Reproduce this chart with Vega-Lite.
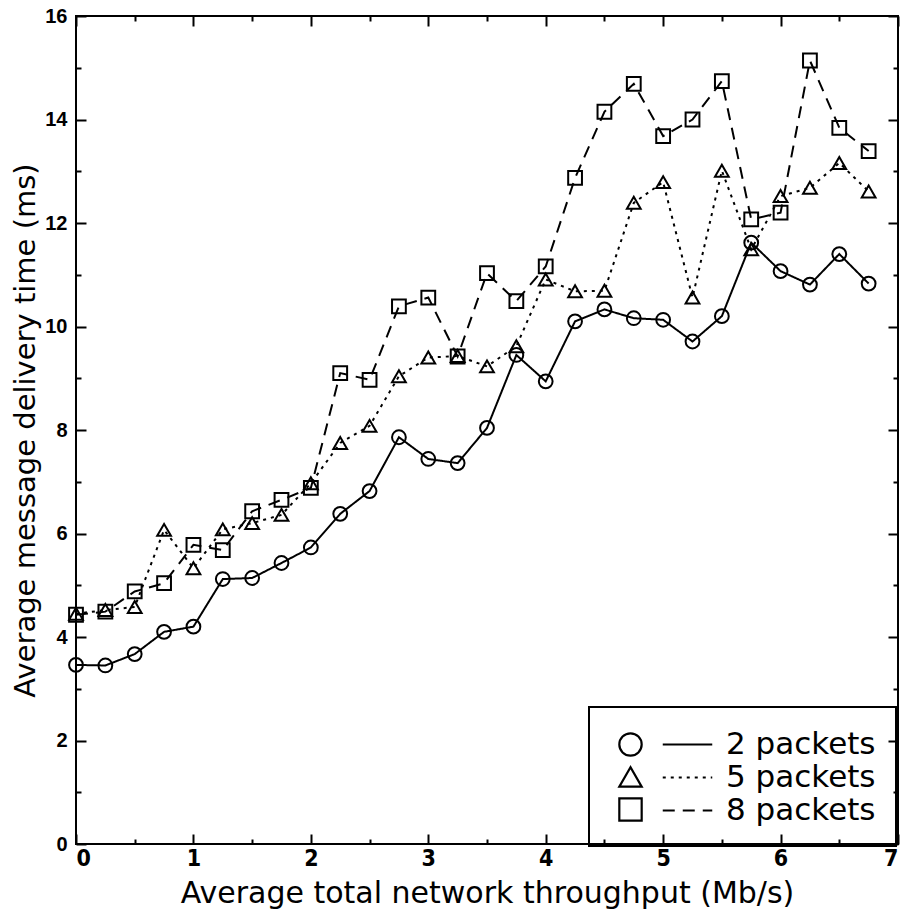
{
  "$schema": "https://vega.github.io/schema/vega-lite/v6.json",
  "width": 822,
  "height": 828,
  "autosize": {"type": "none"},
  "padding": {"left": 76, "top": 16, "right": 9, "bottom": 67},
  "background": "white",
  "config": {"view": {"stroke": "black", "strokeWidth": 2}, "font": "DejaVu Sans", "legend": {"strokeWidth": 2}},
  "data": {"values": [
    {"x": 0, "y": 3.46, "series": "2 packets", "packets": 2},
    {"x": 0.25, "y": 3.45, "series": "2 packets", "packets": 2},
    {"x": 0.5, "y": 3.67, "series": "2 packets", "packets": 2},
    {"x": 0.75, "y": 4.10, "series": "2 packets", "packets": 2},
    {"x": 1.0, "y": 4.20, "series": "2 packets", "packets": 2},
    {"x": 1.25, "y": 5.12, "series": "2 packets", "packets": 2},
    {"x": 1.5, "y": 5.14, "series": "2 packets", "packets": 2},
    {"x": 1.75, "y": 5.43, "series": "2 packets", "packets": 2},
    {"x": 2.0, "y": 5.73, "series": "2 packets", "packets": 2},
    {"x": 2.25, "y": 6.38, "series": "2 packets", "packets": 2},
    {"x": 2.5, "y": 6.82, "series": "2 packets", "packets": 2},
    {"x": 2.75, "y": 7.86, "series": "2 packets", "packets": 2},
    {"x": 3.0, "y": 7.44, "series": "2 packets", "packets": 2},
    {"x": 3.25, "y": 7.36, "series": "2 packets", "packets": 2},
    {"x": 3.5, "y": 8.04, "series": "2 packets", "packets": 2},
    {"x": 3.75, "y": 9.45, "series": "2 packets", "packets": 2},
    {"x": 4.0, "y": 8.94, "series": "2 packets", "packets": 2},
    {"x": 4.25, "y": 10.10, "series": "2 packets", "packets": 2},
    {"x": 4.5, "y": 10.33, "series": "2 packets", "packets": 2},
    {"x": 4.75, "y": 10.16, "series": "2 packets", "packets": 2},
    {"x": 5.0, "y": 10.13, "series": "2 packets", "packets": 2},
    {"x": 5.25, "y": 9.71, "series": "2 packets", "packets": 2},
    {"x": 5.5, "y": 10.20, "series": "2 packets", "packets": 2},
    {"x": 5.75, "y": 11.62, "series": "2 packets", "packets": 2},
    {"x": 6.0, "y": 11.07, "series": "2 packets", "packets": 2},
    {"x": 6.25, "y": 10.81, "series": "2 packets", "packets": 2},
    {"x": 6.5, "y": 11.40, "series": "2 packets", "packets": 2},
    {"x": 6.75, "y": 10.83, "series": "2 packets", "packets": 2},
    {"x": 0, "y": 4.45, "series": "5 packets", "packets": 5},
    {"x": 0.25, "y": 4.52, "series": "5 packets", "packets": 5},
    {"x": 0.5, "y": 4.58, "series": "5 packets", "packets": 5},
    {"x": 0.75, "y": 6.07, "series": "5 packets", "packets": 5},
    {"x": 1.0, "y": 5.33, "series": "5 packets", "packets": 5},
    {"x": 1.25, "y": 6.08, "series": "5 packets", "packets": 5},
    {"x": 1.5, "y": 6.20, "series": "5 packets", "packets": 5},
    {"x": 1.75, "y": 6.36, "series": "5 packets", "packets": 5},
    {"x": 2.0, "y": 6.97, "series": "5 packets", "packets": 5},
    {"x": 2.25, "y": 7.75, "series": "5 packets", "packets": 5},
    {"x": 2.5, "y": 8.08, "series": "5 packets", "packets": 5},
    {"x": 2.75, "y": 9.04, "series": "5 packets", "packets": 5},
    {"x": 3.0, "y": 9.40, "series": "5 packets", "packets": 5},
    {"x": 3.25, "y": 9.43, "series": "5 packets", "packets": 5},
    {"x": 3.5, "y": 9.23, "series": "5 packets", "packets": 5},
    {"x": 3.75, "y": 9.62, "series": "5 packets", "packets": 5},
    {"x": 4.0, "y": 10.91, "series": "5 packets", "packets": 5},
    {"x": 4.25, "y": 10.68, "series": "5 packets", "packets": 5},
    {"x": 4.5, "y": 10.69, "series": "5 packets", "packets": 5},
    {"x": 4.75, "y": 12.39, "series": "5 packets", "packets": 5},
    {"x": 5.0, "y": 12.79, "series": "5 packets", "packets": 5},
    {"x": 5.25, "y": 10.56, "series": "5 packets", "packets": 5},
    {"x": 5.5, "y": 13.01, "series": "5 packets", "packets": 5},
    {"x": 5.75, "y": 11.49, "series": "5 packets", "packets": 5},
    {"x": 6.0, "y": 12.52, "series": "5 packets", "packets": 5},
    {"x": 6.25, "y": 12.68, "series": "5 packets", "packets": 5},
    {"x": 6.5, "y": 13.16, "series": "5 packets", "packets": 5},
    {"x": 6.75, "y": 12.61, "series": "5 packets", "packets": 5},
    {"x": 0, "y": 4.43, "series": "8 packets", "packets": 8},
    {"x": 0.25, "y": 4.49, "series": "8 packets", "packets": 8},
    {"x": 0.5, "y": 4.88, "series": "8 packets", "packets": 8},
    {"x": 0.75, "y": 5.04, "series": "8 packets", "packets": 8},
    {"x": 1.0, "y": 5.78, "series": "8 packets", "packets": 8},
    {"x": 1.25, "y": 5.68, "series": "8 packets", "packets": 8},
    {"x": 1.5, "y": 6.43, "series": "8 packets", "packets": 8},
    {"x": 1.75, "y": 6.65, "series": "8 packets", "packets": 8},
    {"x": 2.0, "y": 6.88, "series": "8 packets", "packets": 8},
    {"x": 2.25, "y": 9.10, "series": "8 packets", "packets": 8},
    {"x": 2.5, "y": 8.97, "series": "8 packets", "packets": 8},
    {"x": 2.75, "y": 10.39, "series": "8 packets", "packets": 8},
    {"x": 3.0, "y": 10.56, "series": "8 packets", "packets": 8},
    {"x": 3.25, "y": 9.42, "series": "8 packets", "packets": 8},
    {"x": 3.5, "y": 11.03, "series": "8 packets", "packets": 8},
    {"x": 3.75, "y": 10.49, "series": "8 packets", "packets": 8},
    {"x": 4.0, "y": 11.16, "series": "8 packets", "packets": 8},
    {"x": 4.25, "y": 12.87, "series": "8 packets", "packets": 8},
    {"x": 4.5, "y": 14.15, "series": "8 packets", "packets": 8},
    {"x": 4.75, "y": 14.69, "series": "8 packets", "packets": 8},
    {"x": 5.0, "y": 13.68, "series": "8 packets", "packets": 8},
    {"x": 5.25, "y": 14.00, "series": "8 packets", "packets": 8},
    {"x": 5.5, "y": 14.74, "series": "8 packets", "packets": 8},
    {"x": 5.75, "y": 12.07, "series": "8 packets", "packets": 8},
    {"x": 6.0, "y": 12.20, "series": "8 packets", "packets": 8},
    {"x": 6.25, "y": 15.14, "series": "8 packets", "packets": 8},
    {"x": 6.5, "y": 13.84, "series": "8 packets", "packets": 8},
    {"x": 6.75, "y": 13.39, "series": "8 packets", "packets": 8}
  ]},
  "resolve": {"axis": {"x": "independent", "y": "independent"}},
  "layer": [
    {
      "mark": {"type": "line", "color": "black", "strokeWidth": 2},
      "encoding": {
        "x": {"field": "x", "type": "quantitative", "scale": {"domain": [0, 7], "nice": false},
          "axis": {"orient": "top", "values": [0,0.5,1,1.5,2,2.5,3,3.5,4,4.5,5,5.5,6,6.5,7], "labels": false, "title": null, "grid": false, "domain": false,
            "tickColor": "black", "tickWidth": 2,
            "tickSize": {"condition": {"test": "datum.value % 1 === 0", "value": -10}, "value": -5}}},
        "y": {"field": "y", "type": "quantitative", "scale": {"domain": [0, 16], "nice": false},
          "axis": {"orient": "right", "values": [0,1,2,3,4,5,6,7,8,9,10,11,12,13,14,15,16], "labels": false, "title": null, "grid": false, "domain": false,
            "tickColor": "black", "tickWidth": 2,
            "tickSize": {"condition": {"test": "datum.value % 2 === 0", "value": -10}, "value": -5}}},
        "strokeDash": {"field": "series", "type": "nominal",
          "scale": {"domain": ["2 packets", "5 packets", "8 packets"], "range": [[1, 0], [3, 5], [12, 8]]},
          "legend": {"orient": "none", "legendX": 513, "legendY": 691, "title": null,
            "symbolType": "M-1.5,0H1.5", "symbolSize": 1089, "symbolStrokeWidth": 2, "symbolStrokeColor": "black",
            "labelFont": "DejaVu Sans", "labelFontSize": 31, "labelColor": "black", "labelOffset": 21,
            "strokeColor": "black", "padding": 20, "rowPadding": 0, "symbolOffset": 61}}
      }
    },
    {
      "mark": {"type": "point", "filled": false, "color": "black", "strokeWidth": 2, "size": 190, "opacity": 1},
      "encoding": {
        "x": {"field": "x", "type": "quantitative", "scale": {"domain": [0, 7], "nice": false},
          "axis": {"orient": "bottom", "values": [0,0.5,1,1.5,2,2.5,3,3.5,4,4.5,5,5.5,6,6.5,7],
            "labelExpr": "datum.value % 1 === 0 ? format(datum.value, 'd') : ''",
            "title": "Average total network throughput (Mb/s)", "grid": false, "domain": false,
            "tickColor": "black", "tickWidth": 2,
            "tickSize": {"condition": {"test": "datum.value % 1 === 0", "value": -10}, "value": -5},
            "labelFont": "DejaVu Sans Condensed, Liberation Sans Narrow, DejaVu Sans", "labelFontSize": 23, "labelFontWeight": "bold", "labelColor": "black", "labelPadding": 13,
            "titleFont": "DejaVu Sans", "titleFontSize": 30, "titleFontWeight": "normal", "titleColor": "black", "titlePadding": 8}},
        "y": {"field": "y", "type": "quantitative", "scale": {"domain": [0, 16], "nice": false},
          "axis": {"orient": "left", "values": [0,1,2,3,4,5,6,7,8,9,10,11,12,13,14,15,16],
            "labelExpr": "datum.value % 2 === 0 ? datum.label : ''",
            "title": "Average message delivery time (ms)", "grid": false, "domain": false,
            "tickColor": "black", "tickWidth": 2,
            "tickSize": {"condition": {"test": "datum.value % 2 === 0", "value": -10}, "value": -5},
            "labelFont": "Liberation Sans", "labelFontSize": 20, "labelFontWeight": "bold", "labelColor": "black", "labelPadding": 19,
            "titleFont": "DejaVu Sans", "titleFontSize": 29, "titleFontWeight": "normal", "titleColor": "black", "titlePadding": 4}},
        "shape": {"field": "packets", "type": "nominal",
          "scale": {"domain": [2, 5, 8], "range": ["circle", "triangle-up", "square"]},
          "legend": {"orient": "none", "legendX": 542, "legendY": 716, "title": null, "labelExpr": "''",
            "symbolSize": 500, "symbolStrokeWidth": 2.2, "symbolStrokeColor": "black", "symbolFillColor": "transparent",
            "rowPadding": 1.5, "padding": 0, "labelFontSize": 1}}
      }
    }
  ]
}
